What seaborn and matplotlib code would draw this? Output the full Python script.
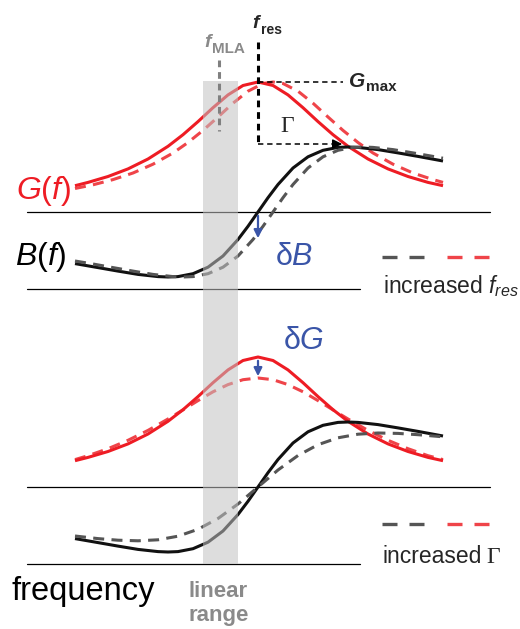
import numpy as np
import matplotlib
matplotlib.use("Agg")
import matplotlib.pyplot as plt
from matplotlib.patches import Rectangle
import seaborn as sns

# curve samples (x = frequency, y = drawn height, pixels)
freq_G = [75, 88, 108, 128, 148, 168, 183, 198, 213, 228, 243, 258, 273, 288, 303, 318, 333, 348, 368, 388, 408, 428, 443]
G_top = [185.7, 182.4, 176.5, 168.9, 159.0, 146.3, 134.7, 121.6, 107.7, 94.9, 85.5, 82.0, 85.5, 94.9, 107.7, 121.6, 134.7, 146.3, 159.0, 168.9, 176.5, 182.4, 185.7]
G_bot = [460.7, 457.4, 451.5, 443.9, 434.0, 421.3, 409.7, 396.6, 382.7, 369.9, 360.5, 357.0, 360.5, 369.9, 382.7, 396.6, 409.7, 421.3, 434.0, 443.9, 451.5, 457.4, 460.7]
G_bot_wide = [459.6, 455.7, 448.7, 440.3, 430.4, 419.0, 409.9, 400.6, 391.8, 384.6, 379.7, 378.0, 379.7, 384.6, 391.8, 400.6, 409.9, 419.0, 430.4, 440.3, 448.7, 455.7, 459.6]

freq_G_shift = [75, 93, 113, 133, 153, 173, 188, 203, 218, 233, 248, 263, 273, 283, 298, 313, 328, 343, 358, 373, 393, 413, 433, 443]
G_top_shift = [188.5, 184.8, 179.6, 173.0, 164.2, 153.0, 142.5, 130.4, 117.0, 103.2, 91.2, 83.5, 82.0, 83.5, 91.2, 103.2, 117.0, 130.4, 142.5, 153.0, 164.2, 173.0, 179.6, 182.4]

freq_B = [75, 98, 118, 138, 158, 168, 178, 193, 208, 223, 238, 248, 258, 268, 278, 293, 308, 323, 338, 348, 358, 378, 398, 418, 443]
B_top = [263.6, 267.6, 271.1, 274.4, 276.6, 277.0, 276.6, 273.7, 267.2, 256.0, 239.5, 226.3, 212.0, 197.7, 184.5, 168.0, 156.8, 150.3, 147.4, 147.0, 147.4, 149.6, 152.9, 156.4, 161.0]
B_bot = [538.6, 542.6, 546.1, 549.4, 551.6, 552.0, 551.6, 548.7, 542.2, 531.0, 514.5, 501.3, 487.0, 472.7, 459.5, 443.0, 431.8, 425.3, 422.4, 422.0, 422.4, 424.6, 427.9, 431.4, 436.0]

freq_B_shift = [75, 93, 113, 133, 153, 173, 183, 193, 208, 223, 238, 253, 263, 273, 283, 293, 308, 323, 338, 353, 363, 373, 393, 413, 433, 443]
B_top_shift = [261.0, 264.0, 267.6, 271.1, 274.4, 276.6, 277.0, 276.6, 273.7, 267.2, 256.0, 239.5, 226.3, 212.0, 197.7, 184.5, 168.0, 156.8, 150.3, 147.4, 147.0, 147.4, 149.6, 152.9, 156.4, 158.2]

freq_B_wide = [75, 98, 118, 138, 158, 178, 198, 218, 238, 258, 278, 298, 318, 338, 358, 378, 398, 418, 443]
B_bot_wide = [536.0, 538.6, 540.2, 540.8, 539.8, 536.2, 529.3, 518.5, 504.0, 487.0, 470.0, 455.5, 444.7, 437.8, 434.2, 433.0, 433.4, 434.7, 436.8]

RED = "#ee1c24"
RED_D = "#ef4449"
GREY_D = "#555555"
BLUE = "#3a55a8"
LABEL_GREY = "#8a8a8a"

sns.set_theme(style="white")
plt.rcParams["font.family"] = ["Liberation Sans", "DejaVu Sans"]
plt.rcParams["mathtext.fontset"] = "custom"
plt.rcParams["mathtext.rm"] = "Liberation Sans"
plt.rcParams["mathtext.it"] = "Liberation Sans:italic"
plt.rcParams["mathtext.bf"] = "Liberation Sans:bold"

fig = plt.figure(figsize=(5.2, 6.29), dpi=100)
ax = fig.add_axes([0, 0, 1, 1])
ax.set_xlim(0, 520)
ax.set_ylim(629, 0)
ax.axis("off")

dash = (0, (3.6, 2.4))


def curve(x, y, color, ls="-", z=3):
    sns.lineplot(x=x, y=y, ax=ax, color=color, lw=2.2, linestyle=ls,
                 sort=False, estimator=None, zorder=z, solid_capstyle="butt")


# top panel: increased f_res
curve(freq_G_shift, G_top_shift, RED_D, dash)
curve(freq_G, G_top, RED)
curve(freq_B, B_top, "#111111")
curve(freq_B_shift, B_top_shift, GREY_D, dash, z=4)

# bottom panel: increased Gamma
curve(freq_G, G_bot_wide, RED_D, dash)
curve(freq_G, G_bot, RED)
curve(freq_B, B_bot, "#111111")
curve(freq_B_wide, B_bot_wide, GREY_D, dash, z=4)

# baselines
for y0, x1 in [(212, 490), (289, 360), (487, 490), (564, 360)]:
    ax.plot([27, x1], [y0, y0], color="black", lw=0.9, zorder=2)

# linear range band (drawn over the curves)
ax.add_patch(Rectangle((203, 81), 35, 483, facecolor="#c2c2c2", alpha=0.55, lw=0, zorder=6))

f_res = freq_G[int(np.argmin(G_top))]
g_max = min(G_top)
b_peak = freq_B[int(np.argmin(B_top))]

# f_res and G_max markers
ax.plot([f_res, f_res], [42, 144], color="black", lw=2.2, ls=(0, (2.2, 1.6)), zorder=7)
ax.plot([f_res, 343], [g_max, g_max], color="black", lw=1.1, ls=(0, (3.5, 2.5)), zorder=7)
ax.plot([f_res, b_peak - 8], [144, 144], color="black", lw=1.1, ls=(0, (3.5, 2.5)), zorder=7)
ax.annotate("", xy=(b_peak - 3, 144), xytext=(b_peak - 16, 144),
            arrowprops=dict(arrowstyle="-|>", color="black", lw=1.1, mutation_scale=14), zorder=7)
ax.text(287, 127, "Γ", fontsize=17, family="Liberation Serif", ha="center", va="center")

ax.text(252, 28, "f", fontsize=14, fontweight="bold", style="italic", ha="left", va="baseline")
ax.text(261, 34, "res", fontsize=10, fontweight="bold", ha="left", va="baseline")
ax.text(349, 87, "G", fontsize=15, fontweight="bold", style="italic", ha="left", va="baseline")
ax.text(366, 91, "max", fontsize=11, fontweight="bold", ha="left", va="baseline")

# f_MLA marker
ax.plot([219, 219], [60, 131], color="#808080", lw=2.2, ls=(0, (2.2, 1.6)), zorder=7)
ax.text(204, 47, "f", fontsize=14, fontweight="bold", style="italic", color=LABEL_GREY,
        ha="left", va="baseline")
ax.text(212, 53, "MLA", fontsize=11, fontweight="bold", color=LABEL_GREY, ha="left", va="baseline")

# delta arrows
ax.annotate("", xy=(f_res, 241), xytext=(f_res, 213),
            arrowprops=dict(arrowstyle="-|>", color=BLUE, lw=1.6, mutation_scale=12), zorder=8)
ax.annotate("", xy=(f_res, 379), xytext=(f_res, 358),
            arrowprops=dict(arrowstyle="-|>", color=BLUE, lw=1.6, mutation_scale=12), zorder=8)
ax.text(275, 265, "δ$B$", fontsize=22, color=BLUE, ha="left", va="baseline")
ax.text(283, 349, "δ$G$", fontsize=22, color=BLUE, ha="left", va="baseline")

# curve labels
ax.text(16, 199, "$G$($f$)", fontsize=23, color=RED, ha="left", va="baseline")
ax.text(15, 265, "$B$($f$)", fontsize=23, color="black", ha="left", va="baseline")
ax.text(12, 600, "frequency", fontsize=23.5, color="black", ha="left", va="baseline")
ax.text(188, 597, "linear", fontsize=16, fontweight="bold", color=LABEL_GREY, ha="left", va="baseline")
ax.text(188, 621, "range", fontsize=16, fontweight="bold", color=LABEL_GREY, ha="left", va="baseline")

# legends
leg_dash = (0, (4.5, 3.6))
for y0 in (257, 524):
    ax.plot([382, 424], [y0, y0], color=GREY_D, lw=2.4, ls=leg_dash, solid_capstyle="butt")
    ax.plot([447, 489], [y0, y0], color=RED_D, lw=2.4, ls=leg_dash, solid_capstyle="butt")
ax.text(383, 293, "increased $f_{res}$", fontsize=16.5, ha="left", va="baseline")
ax.text(383, 563, "increased", fontsize=16.5, ha="left", va="baseline")
ax.text(486, 563, "Γ", fontsize=17, family="Liberation Serif", ha="left", va="baseline")

fig.savefig("out.png", dpi=100)
